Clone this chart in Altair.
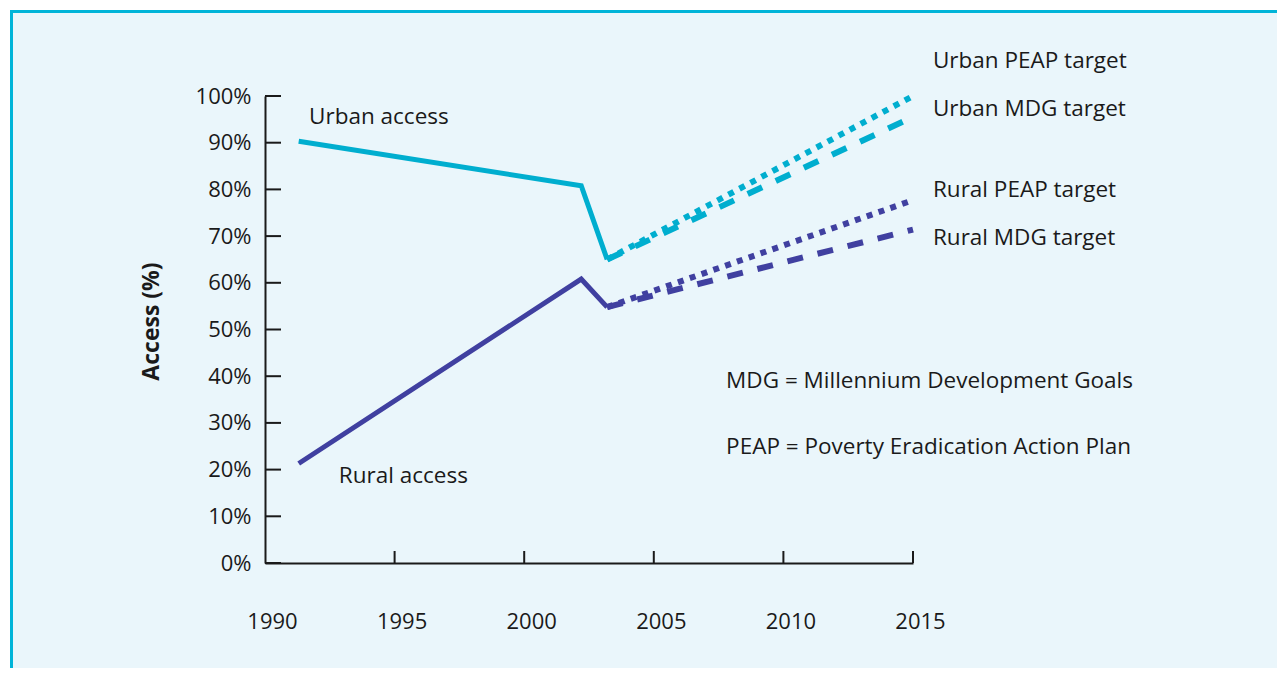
import altair as alt
import pandas as pd

# ---- data ----
years_actual = [1991.3, 2002.2, 2003.2]
urban_actual = [90.3, 80.8, 65.0]
rural_actual = [21.3, 60.8, 54.8]

target_years = [2003.2, 2015.0]
urban_peap = [65.0, 100.0]
urban_mdg = [65.0, 95.5]
rural_peap = [54.8, 77.7]
rural_mdg = [54.8, 71.4]

x_tick_values = [1990, 1995, 2000, 2005, 2010, 2015]
y_tick_values = [0, 10, 20, 30, 40, 50, 60, 70, 80, 90, 100]

label_texts = ["Urban access", "Rural access", "Urban PEAP target", "Urban MDG target",
               "Rural PEAP target", "Rural MDG target",
               "MDG = Millennium Development Goals", "PEAP = Poverty Eradication Action Plan"]
label_years = [1991.7, 1992.85, 2015.77, 2015.77, 2015.77, 2015.77, 2007.79, 2007.79]
label_values = [95.6, 18.6, 107.5, 97.2, 79.9, 69.6, 39.0, 24.8]

CYAN = "#00AECF"
PURPLE = "#4040A0"
FONT = "Open Sans"
W, H = 648, 467
PAD = {"left": 257, "top": 88, "right": 364, "bottom": 105}

def series(name, area, xs, ys):
    return pd.DataFrame({"series": name, "area": area, "year": xs, "value": ys})

actual_df = pd.concat([series("Urban access", "Urban", years_actual, urban_actual),
                       series("Rural access", "Rural", years_actual, rural_actual)])
peap_df = pd.concat([series("Urban PEAP", "Urban", target_years, urban_peap),
                     series("Rural PEAP", "Rural", target_years, rural_peap)])
mdg_df = pd.concat([series("Urban MDG", "Urban", target_years, urban_mdg),
                    series("Rural MDG", "Rural", target_years, rural_mdg)])
labels_df = pd.DataFrame({"text": label_texts, "year": label_years, "value": label_values})

xscale = alt.Scale(domain=[1990, 2015], nice=False, zero=False)
yscale = alt.Scale(domain=[0, 100], nice=False)
cscale = alt.Scale(domain=["Urban", "Rural"], range=[CYAN, PURPLE])

x_enc = alt.X("year:Q", scale=xscale,
              axis=alt.Axis(values=x_tick_values, format="d", ticks=False, grid=False,
                            labelPadding=58, labelBaseline="middle", labelOffset=7,
                            labelFlush=False, labelOverlap=False,
                            domainColor="#1a1a1a", domainWidth=2, title=None, zindex=1,
                            labelFontSize=22, labelColor="#1a1a1a", labelFont=FONT))
y_enc = alt.Y("value:Q", scale=yscale,
              axis=alt.Axis(values=y_tick_values, labelExpr="datum.value + '%'", ticks=False,
                            grid=False, labelPadding=14, domainColor="#1a1a1a", domainWidth=2,
                            labelFlush=False, labelOverlap=False,
                            title="Access (%)", titleFontSize=23, titleFontWeight="bold",
                            titleFont=FONT, titleColor="#1a1a1a", titleAngle=-90,
                            titleX=-102, titleY=225, titleAlign="center", titleBaseline="bottom",
                            zindex=1, labelFontSize=22, labelColor="#1a1a1a", labelFont=FONT))

frame = alt.Chart(pd.DataFrame({"a": [0]})).mark_rect(
    fill="#EAF6FB", stroke="#00B4D8", strokeWidth=3
).encode(x=alt.value(-253.5), x2=alt.value(W + PAD["right"] + 20),
         y=alt.value(-84.5), y2=alt.value(H + PAD["bottom"] + 20))

ytick = alt.Chart(pd.DataFrame({"value": y_tick_values})).mark_rule(
    color="#1a1a1a", strokeWidth=2
).encode(y=alt.Y("value:Q", scale=yscale), x=alt.value(0), x2=alt.value(16))

xtick = alt.Chart(pd.DataFrame({"year": x_tick_values[1:]})).mark_rule(
    color="#1a1a1a", strokeWidth=2
).encode(x=alt.X("year:Q", scale=xscale), y=alt.value(H), y2=alt.value(H - 12))

actual = alt.Chart(actual_df).mark_line(strokeWidth=5, strokeJoin="miter", strokeCap="butt").encode(
    x=x_enc, y=y_enc, detail="series:N",
    color=alt.Color("area:N", scale=cscale, legend=None))

peap = alt.Chart(peap_df).mark_line(strokeWidth=6, strokeDash=[6, 6.5], strokeCap="butt").encode(
    x=alt.X("year:Q", scale=xscale), y=alt.Y("value:Q", scale=yscale), detail="series:N",
    color=alt.Color("area:N", scale=cscale, legend=None))

mdg = alt.Chart(mdg_df).mark_line(strokeWidth=6, strokeDash=[16, 15], strokeCap="butt").encode(
    x=alt.X("year:Q", scale=xscale), y=alt.Y("value:Q", scale=yscale), detail="series:N",
    color=alt.Color("area:N", scale=cscale, legend=None))

labels = alt.Chart(labels_df).mark_text(
    align="left", baseline="middle", font=FONT, fontSize=22.5, color="#1a1a1a"
).encode(x=alt.X("year:Q", scale=xscale), y=alt.Y("value:Q", scale=yscale), text="text:N")

chart = alt.layer(frame, ytick, xtick, actual, peap, mdg, labels).properties(
    width=W, height=H, padding=PAD, autosize=alt.AutoSizeParams(type="none"),
    background="white"
).configure_view(stroke=None)

chart.save("out.html", embed_options={"renderer": "svg", "actions": False})
